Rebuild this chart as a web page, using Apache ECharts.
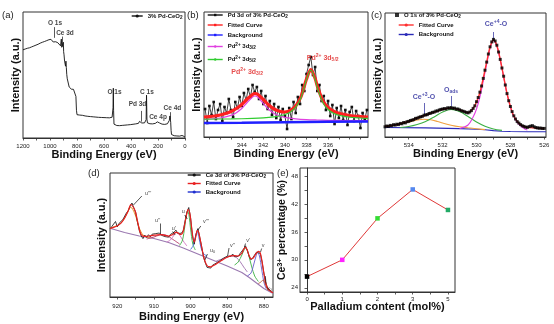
<!DOCTYPE html>
<html>
<head>
<meta charset="utf-8">
<script src="https://cdn.jsdelivr.net/npm/echarts@6.0.0/dist/echarts.min.js"></script>
<style>
html,body{margin:0;padding:0;background:#ffffff;}
#chart{width:554px;height:324px;}
</style>
</head>
<body>
<div id="chart"></div>
<script>
const FONT = '"Liberation Sans", Arial, Helvetica, sans-serif';

// ---------- (a) survey spectrum: [binding energy eV, intensity a.u.] ----------
const surveyA = [[1200,70.0],[1192,69.1],[1184,70.6],[1176,69.5],[1168,71.2],[1160,70.4],[1152,71.6],[1144,70.9],[1136,72.3],[1128,71.8],[1120,73.0],[1112,72.4],[1104,73.7],[1096,73.1],[1088,74.4],[1080,74.0],[1072,75.3],[1064,74.8],[1056,76.0],[1048,75.4],[1040,76.6],[1032,76.1],[1024,77.3],[1016,76.9],[1008,78.0],[1000,77.4],[993,78.3],[986,77.1],[980,77.6],[976,76.2],[972,77.0],[966,75.8],[958,76.4],[950,75.2],[942,75.6],[934,74.1],[928,74.6],[922,73.2],[918,73.8],[916,78.5],[913,72.0],[908,71.2],[904,70.5],[901,76.0],[899,68.5],[896,66.0],[892,61.0],[888,60.0],[885,57.0],[882,61.0],[879,56.0],[876,50.5],[872,47.0],[866,45.5],[858,40.5],[850,39.2],[842,38.8],[834,39.5],[826,38.6],[818,38.9],[812,38.0],[808,33.0],[804,22.0],[800,18.5],[790,18.8],[780,18.2],[770,18.6],[760,18.0],[750,18.4],[740,17.5],[730,17.9],[720,17.2],[710,17.6],[700,17.0],[690,17.3],[680,16.8],[670,17.1],[660,16.6],[650,16.9],[640,16.4],[630,16.7],[620,16.3],[610,16.6],[600,16.2],[590,16.5],[580,16.1],[570,16.4],[560,16.0],[550,16.3],[540,16.5],[536,17.5],[533,24.0],[531,39.5],[529,22.0],[526,11.0],[522,10.2],[515,9.6],[505,9.9],[495,9.5],[485,9.8],[475,9.6],[465,10.0],[455,9.8],[445,10.2],[435,10.0],[425,10.4],[415,10.2],[405,10.6],[395,10.5],[385,10.9],[375,10.8],[365,11.2],[355,11.1],[345,11.6],[340,12.6],[337,13.2],[334,12.2],[330,11.8],[320,11.9],[310,11.7],[300,12.0],[292,12.4],[288,14.5],[285,34.0],[282,15.0],[278,12.0],[270,11.6],[260,11.3],[250,11.5],[240,11.2],[230,11.4],[220,11.6],[210,12.0],[205,12.8],[200,13.4],[195,12.6],[190,12.0],[180,11.4],[170,11.0],[160,11.2],[150,10.8],[140,11.0],[130,11.3],[122,12.2],[116,14.0],[112,17.5],[109,16.0],[106,12.5],[103,6.0],[100,2.8],[95,2.2],[88,2.0],[80,1.8],[70,1.9],[60,1.6],[50,1.7],[40,1.5],[30,1.6],[22,2.0],[15,3.0],[10,1.8],[6,1.2],[3,0.9],[0,0.8]];
const surveyNotes = [['O 1s',963,91.5],['Ce 3d',889,83.5],['O 1s',522,36],['C 1s',282,36],['Pd 3d',352,26.5],['Ce 4p',200,16.5],['Ce 4d',93,24]];
const surveyArrows = [[970,79.5,88.0],[909,72.5,80.5],[326,13,21.5],[106,14.5,20.5]];
const aLabels = [0,200,400,600,800,1000,1200];
const aTicks = [0,100,200,300,400,500,600,700,800,900,1000,1100,1200];

// ---------- (b) Pd 3d ----------
const rawB = [[347.4,28],[347.2,14],[347.0,31],[346.8,22],[346.6,35],[346.4,18],[346.2,27],[346.0,33],[345.8,16],[345.6,30],[345.4,24],[345.2,38],[345.0,27],[344.8,20],[344.6,35],[344.4,29],[344.2,40],[344.0,31],[343.8,44],[343.6,37],[343.4,48],[343.2,40],[343.0,52],[342.8,45],[342.6,50],[342.4,38],[342.2,46],[342.0,33],[341.8,41],[341.6,28],[341.4,36],[341.2,22],[341.0,33],[340.8,19],[340.6,30],[340.4,17],[340.2,28],[340.0,21],[339.8,8],[339.6,29],[339.4,18],[339.2,35],[339.0,24],[338.8,40],[338.6,33],[338.4,52],[338.2,46],[338.0,63],[337.8,72],[337.6,80],[337.4,62],[337.2,70],[337.0,46],[336.8,52],[336.6,36],[336.4,41],[336.2,27],[336.0,36],[335.8,21],[335.6,32],[335.4,13],[335.2,29],[335.0,19],[334.8,31],[334.6,17],[334.4,27],[334.2,12],[334.0,25],[333.8,30],[333.6,16],[333.4,26],[333.2,21],[333.0,9],[332.8,24],[332.6,18],[332.4,27]];
const fitB = [[347.5,19.8],[347,20.3],[346.5,21.0],[346,22.0],[345.5,23.5],[345,25.5],[344.5,28.5],[344,32.5],[343.5,38.0],[343,42.5],[342.8,43.5],[342.5,42.5],[342,37.5],[341.5,32.0],[341,28.0],[340.5,25.8],[340,25.0],[339.5,26.5],[339,31.0],[338.5,40.5],[338,58.0],[337.6,67.5],[337.2,58.5],[337,51.0],[336.5,36.5],[336,29.5],[335.5,25.8],[335,23.8],[334,21.5],[333,20.5],[332.3,20.0]];
const bgB = [[347.5,14.0],[344,14.3],[340,14.8],[336,15.2],[332.3,15.5]];
const pd32B = [[347.5,17.5],[346,19.0],[345,21.6],[344.5,24.3],[344,28.5],[343.5,34.5],[343,40.0],[342.8,41.0],[342.5,39.8],[342,33.5],[341.5,27.5],[341,23.6],[340.5,21.2],[340,19.7],[339,18.2],[338,17.4],[337,17.0],[336,16.7],[334,16.4],[332.3,16.3]];
const pd52B = [[347.5,17.8],[345,18.1],[343,18.6],[342,19.1],[341,20.1],[340.5,21.0],[340,22.5],[339.5,25.0],[339,29.8],[338.5,39.5],[338,57.5],[337.6,67.0],[337.2,57.5],[337,49.5],[336.5,34.8],[336,27.5],[335.5,23.8],[335,21.8],[334,19.8],[333,19.0],[332.3,18.6]];
const bNotes = [['Pd{sup|2+} 3d{sub|3/2}',343.5,65],['Pd{sup|2+} 3d{sub|5/2}',336.5,79]];
const bLabels = [336,338,340,342,344];
const bTicks = [333,334,335,336,337,338,339,340,341,342,343,344,345,346,347];

// ---------- (c) O 1s ----------
const rawC = [[535.4,10.2],[535.3,11.0],[535.2,10.5],[535.1,11.6],[535.0,11.2],[534.9,12.3],[534.8,11.9],[534.7,12.8],[534.6,12.4],[534.5,13.6],[534.4,13.2],[534.3,14.5],[534.2,14.1],[534.1,15.3],[534.0,15.6],[533.9,16.5],[533.8,16.9],[533.7,17.4],[533.6,18.6],[533.5,18.8],[533.4,19.7],[533.3,20.2],[533.2,20.6],[533.1,21.8],[533.0,22.1],[532.9,22.4],[532.8,23.5],[532.7,23.8],[532.6,24.6],[532.5,24.9],[532.4,25.9],[532.3,26.1],[532.2,27.0],[532.1,27.6],[532.0,27.9],[531.9,28.4],[531.8,28.1],[531.7,29.2],[531.6,28.8],[531.5,29.5],[531.4,28.6],[531.3,28.9],[531.2,27.8],[531.1,28.0],[531.0,27.2],[530.9,26.3],[530.8,25.8],[530.7,25.2],[530.6,24.6],[530.5,24.1],[530.4,25.0],[530.3,26.4],[530.2,28.6],[530.1,31.2],[530.0,35.3],[529.9,39.5],[529.8,44.8],[529.7,51.0],[529.6,58.6],[529.5,66.8],[529.4,74.9],[529.3,83.0],[529.2,90.2],[529.1,95.1],[529.0,97.6],[528.9,96.0],[528.8,91.8],[528.7,85.0],[528.6,77.6],[528.5,69.0],[528.4,60.8],[528.3,52.0],[528.2,43.4],[528.1,36.3],[528.0,30.5],[527.9,25.4],[527.8,21.2],[527.7,18.0],[527.6,15.4],[527.5,13.9],[527.4,12.4],[527.3,11.2],[527.2,10.6],[527.1,9.9],[527.0,9.6],[526.9,10.4],[526.8,10.9],[526.7,11.3],[526.6,10.2],[526.5,9.4],[526.4,9.1],[526.3,8.8],[526.2,8.9],[526.1,8.5],[526.0,8.6]];
const fitC = [[535.4,10.5],[535,11.5],[534.5,13.2],[534,15.8],[533.5,19.0],[533,22.0],[532.5,24.8],[532,27.8],[531.5,28.9],[531,27.2],[530.7,25.3],[530.5,24.4],[530.2,28.6],[530,35.0],[529.8,44.5],[529.6,59.0],[529.4,75.0],[529.2,90.0],[529.0,97.0],[528.8,91.5],[528.6,77.5],[528.4,60.5],[528.2,43.5],[528.0,30.5],[527.8,21.0],[527.5,13.8],[527.2,10.5],[527,9.6],[526.5,9.0],[526,8.5]];
const bgC = [[535.4,9.5],[533,9.1],[531,8.4],[530,7.8],[529.5,7.2],[529,6.4],[528.5,5.8],[528,5.5],[527,5.3],[525.9,5.2]];
const ce3C = [[535.4,10.5],[535,11.5],[534.5,13.0],[534,15.0],[533.5,17.0],[533.1,17.8],[532.7,17.2],[532.3,15.5],[532,14.0],[531.5,11.8],[531,10.2],[530.5,9.2],[530,8.3],[529.5,7.4]];
const oadsC = [[534.5,9.5],[534,10.5],[533.5,12.5],[533,15.5],[532.5,20.0],[532,25.0],[531.5,27.5],[531,25.5],[530.5,20.5],[530,15.0],[529.5,10.8],[529,8.0],[528.5,6.6]];
const ce4C = [[531,8.5],[530.5,12.0],[530.2,20.0],[530,28.0],[529.8,40.0],[529.6,56.0],[529.4,73.0],[529.2,89.0],[529.0,96.5],[528.8,91.0],[528.6,77.0],[528.4,60.0],[528.2,43.0],[528.0,30.0],[527.8,20.5],[527.5,12.5],[527.2,8.5],[527,7.0]];
const cNotes = [['Ce{sup|+4}-O',528.85,113],['O{sub|ads}',531.5,47],['Ce{sup|+3}-O',533.1,40]];
const cArrows = [[529.0,105,97.5],[531.5,41,31],[533.1,34,23]];
const cLabels = [526,528,530,532,534];
const cTicks = [526,527,528,529,530,531,532,533,534,535];

// ---------- (d) Ce 3d ----------
const rawD = [[922.0,68.0],[921.5,70.5],[921.0,68.8],[920.5,75.5],[920.0,70.2],[919.5,73.8],[919.0,72.6],[918.5,77.4],[918.0,78.8],[917.5,84.1],[917.0,86.5],[916.5,90.8],[916.0,94.0],[915.5,89.2],[915.0,84.6],[914.5,74.8],[914.0,66.5],[913.5,61.2],[913.0,58.4],[912.5,61.9],[912.0,59.6],[911.5,62.3],[911.0,60.1],[910.5,62.8],[910.0,61.0],[909.5,63.4],[909.0,61.5],[908.5,64.0],[908.0,61.8],[907.5,63.5],[907.0,60.4],[906.5,61.9],[906.0,59.8],[905.5,62.6],[905.0,61.5],[904.5,64.8],[904.0,66.9],[903.5,63.5],[903.0,61.6],[902.5,63.8],[902.0,66.5],[901.5,76.0],[901.0,84.8],[900.5,89.5],[900.0,79.2],[899.5,61.5],[899.0,52.8],[898.5,63.2],[898.0,68.4],[897.5,59.6],[897.0,50.8],[896.5,40.2],[896.0,34.5],[895.5,29.6],[895.0,31.2],[894.5,28.9],[894.0,31.8],[893.5,32.4],[893.0,33.9],[892.5,34.1],[892.0,36.3],[891.5,36.8],[891.0,38.9],[890.5,38.2],[890.0,40.8],[889.5,42.4],[889.0,40.7],[888.5,43.0],[888.0,40.2],[887.5,42.1],[887.0,40.6],[886.5,43.5],[886.0,45.2],[885.5,48.1],[885.0,51.2],[884.5,46.3],[884.0,40.5],[883.5,37.2],[883.0,39.4],[882.5,41.0],[882.0,44.8],[881.5,46.2],[881.0,43.6],[880.5,35.4],[880.0,23.8],[879.5,14.6],[879.0,9.2],[878.5,7.8],[878.0,5.6],[877.5,4.2]];
const fitD = [[922,68.5],[921,69.6],[920,71.2],[919,73.8],[918,79.0],[917,86.5],[916.3,92.5],[915.5,89.0],[915,84.5],[914.5,76.0],[914,67.5],[913.5,62.5],[913,60.8],[912,60.6],[911,61.2],[910,61.8],[909,62.2],[908,62.3],[907,61.6],[906,61.0],[905,62.2],[904,64.6],[903.5,64.4],[903,62.6],[902.5,62.8],[902,66.0],[901.5,75.0],[901,84.0],[900.7,87.5],[900.3,85.0],[900,78.5],[899.5,63.0],[899,55.0],[898.6,60.0],[898.2,66.5],[897.8,64.5],[897.4,58.0],[897,50.5],[896.5,41.5],[896,35.0],[895.5,31.5],[895,30.3],[894.5,30.2],[894,31.0],[893,33.0],[892,35.4],[891,37.8],[890,39.8],[889,41.2],[888,41.3],[887,41.0],[886,43.8],[885.5,47.8],[885,49.6],[884.5,46.8],[884,41.2],[883.5,38.2],[883,38.6],[882.5,41.2],[882,44.0],[881.5,45.6],[881,44.2],[880.5,35.8],[880,24.2],[879.5,13.8],[879,9.0],[878.5,6.8],[878,5.2],[877.5,4.2]];
const bgD = [[922,68.7],[918,64.5],[914,61.0],[910,58.5],[906,54.5],[902,49.0],[898,43.0],[894,37.0],[890,31.0],[886,24.5],[884,19.5],[882,14.0],[880,8.5],[878,4.5],[877.5,3.8]];
const uIIID = [[922,69.0],[920,71.5],[919,74.0],[918,79.0],[917,86.0],[916.5,89.5],[916,89.0],[915,81.0],[914,69.0],[913,62.0],[912,60.0],[911,59.0]];
const uIID = [[912,58.0],[910,60.0],[908.5,62.0],[907.5,62.5],[906.5,61.5],[905,58.0],[903,53.0]];
const uID = [[906.5,55.0],[905.5,57.0],[904.5,62.0],[903.8,64.5],[903,62.0],[902,56.0],[901,51.0]];
const uD = [[903,51.5],[902.2,57.0],[901.6,70.0],[901.2,81.0],[900.8,86.0],[900.4,81.0],[900,68.0],[899.4,53.0],[898.7,47.0]];
const vIIID = [[900,47.5],[899.2,52.0],[898.7,60.0],[898.2,65.0],[897.7,59.0],[897.2,50.0],[896.5,43.5],[895.5,41.0]];
const vIID = [[893,36.0],[891,38.5],[889.5,40.5],[888.5,41.0],[887.5,39.5],[886.5,35.5],[885.5,30.0],[884.5,25.0]];
const vID = [[888,32.0],[887,35.0],[886,42.0],[885.3,48.0],[885,49.0],[884.5,46.5],[884,40.0],[883.3,30.0],[882.5,21.0],[881.5,15.5]];
const vD = [[884.5,21.0],[883.5,24.0],[882.8,32.0],[882.2,40.0],[881.7,44.5],[881.2,41.0],[880.6,28.0],[880,15.0],[879.4,8.5]];
const v0D = [[881.5,13.5],[880.8,15.0],[880.2,17.0],[879.7,14.0],[879.2,9.0],[878.6,6.0]];
const dNotes = [["u'''",911.6,104],["u''",909,77],["u'",904.6,69],['u',902,85.5],["v'''",895.8,75.5],['u{sub|0}',894,47],["v''",888.6,52],["v'",884.3,57],['v',880.2,52],['v{sub|0}',878.5,9]];
const dLeaders = [[915.6,92,913.3,101],[908.3,73.5,908.3,63],[904.9,65.5,904.2,62],[901.6,82,900.9,78],[897.2,71,898.0,67],[895.4,43,896.1,37],[889.5,49,889.9,41],[885.0,53.5,885.3,50],[880.6,48.5,880.9,45],[879.4,13.5,879.6,21]];
const dLabels = [880,890,900,910,920];
const dTicks = [880,885,890,895,900,905,910,915,920];

// ---------- (e) Ce3+ percentage ----------
const eCategories = ['0','1','2','3','5'];
const eValues = [26.4, 30.0, 38.9, 45.1, 40.7];
const eMarkerColors = ['#000000','#ff22ff','#33dd33','#5588ee','#22aa66'];
const eYLabels = [24,30,36,42,48];
const eYTicks = [24,27,30,33,36,39,42,45,48];
const eXTicks = [0,0.5,1,1.5,2,2.5,3,3.5,4];

// ---------------------------------------------------------------
function rich(fs, weight, color) {
  return {
    sup:{fontSize:fs*0.72, fontWeight:weight, color:color, fontFamily:FONT, verticalAlign:'top', lineHeight:fs*0.85},
    sub:{fontSize:fs*0.72, fontWeight:weight, color:color, fontFamily:FONT, verticalAlign:'bottom', lineHeight:fs*0.85}
  };
}
function xAxisOf(gi, min, max, labels, ticks, labelMargin, nameGap, inverse, fmt) {
  return {
    gridIndex:gi, type:'value', min:min, max:max, inverse:inverse,
    name:'Binding Energy (eV)', nameLocation:'middle', nameGap:nameGap, nameMoveOverlap:false,
    nameTextStyle:{fontSize:11, fontWeight:'bold', color:'#111', fontFamily:FONT},
    axisLine:{show:true, onZero:false, lineStyle:{color:'#333', width:1}},
    axisTick:{show:true, customValues:ticks, length:2.5, lineStyle:{color:'#333', width:0.8}},
    axisLabel:{show:true, customValues:labels, fontSize:6, margin:labelMargin, color:'#222', fontFamily:FONT,
               formatter: fmt || (v => String(v))},
    splitLine:{show:false}
  };
}
function yAxisOf(gi, max, nameGap) {
  return {
    gridIndex:gi, type:'value', min:0, max:max,
    name:'Intensity (a.u.)', nameLocation:'middle', nameGap:nameGap, nameMoveOverlap:false,
    nameTextStyle:{fontSize:11, fontWeight:'bold', color:'#111', fontFamily:FONT},
    axisLine:{show:false}, axisTick:{show:false}, axisLabel:{show:false}, splitLine:{show:false}
  };
}
function lineS(name, gi, data, color, width, extra) {
  return Object.assign({
    name:name, type:'line', xAxisIndex:gi, yAxisIndex:gi, data:data,
    symbol:'none', showSymbol:false, lineStyle:{color:color, width:width}, itemStyle:{color:color},
    silent:true, z:2
  }, extra || {});
}
function notes(gi, list, fs, weight, color, markData, arrowEnd) {
  return {
    type:'scatter', xAxisIndex:gi, yAxisIndex:gi, silent:true, z:10,
    data:list.map(n => ({name:n[0], value:[n[1], n[2]]})),
    symbolSize:1, itemStyle:{color:'rgba(0,0,0,0)'},
    label:{show:true, position:'inside', formatter:p => p.name, fontSize:fs, fontWeight:weight,
           color:color, fontFamily:FONT, lineHeight:fs*1.3, rich:rich(fs, weight, color)},
    markLine: markData ? {
      silent:true, animation:false, symbol:['none', arrowEnd ? 'arrow' : 'none'], symbolSize:[0,4],
      label:{show:false}, lineStyle:{color:color, width:0.7, type:'solid'}, emphasis:{disabled:true},
      data:markData
    } : undefined
  };
}
function legendFmt(name) {
  return name.trim().replace('CeO2','CeO{sub|2}').replace(/Pd2\+ 3d(\d\/2)/, 'Pd{sup|2+} 3d{sub|$1}');
}
function legendOf(names, left, top, w, h, gap) {
  return {
    data:names, left:left, top:top, orient:'vertical', padding:0, itemGap:gap,
    itemWidth:w, itemHeight:h, selectedMode:false, formatter:legendFmt,
    lineStyle:{width:1.4},
    textStyle:{fontSize:6, fontWeight:'bold', color:'#111', fontFamily:FONT, lineHeight:8, rich:rich(6.5,'bold','#111')}
  };
}

const chart = echarts.init(document.getElementById('chart'), null, {renderer:'canvas'});
const gridStyle = {show:true, borderColor:'#333', borderWidth:1, backgroundColor:'transparent', containLabel:false, outerBoundsMode:'none'};

const option = {
  animation:false,
  backgroundColor:'#ffffff',
  textStyle:{fontFamily:FONT},
  grid:[
    Object.assign({left:23, top:12, width:162, height:126}, gridStyle),
    Object.assign({left:204, top:12, width:164, height:125}, gridStyle),
    Object.assign({left:385, top:13, width:161, height:124}, gridStyle),
    Object.assign({left:110, top:173, width:163, height:124}, gridStyle),
    Object.assign({left:300, top:168, width:155, height:124}, gridStyle)
  ],
  xAxis:[
    xAxisOf(0, 0, 1200, aLabels, aTicks, 5, 11, true),
    xAxisOf(1, 332.3, 347.5, bLabels, bTicks, 5, 11, true),
    xAxisOf(2, 525.9, 535.4, cLabels, cTicks, 5, 11, true),
    xAxisOf(3, 877.5, 922, dLabels, dTicks, 6, 14, true),
    Object.assign(xAxisOf(4, -0.2, 4.2, [0,1,2,3,4], eXTicks, 4, 9.5, false, v => eCategories[Math.round(v)]),
      {name:'Palladium content (mol%)'})
  ],
  yAxis:[
    yAxisOf(0, 100, 2),
    yAxisOf(1, 125, 2),
    yAxisOf(2, 124, 2),
    yAxisOf(3, 124, 3),
    {
      gridIndex:4, type:'value', min:23.1, max:49.7,
      name:'Ce{sup|3+} percentage (%)', nameLocation:'middle', nameGap:12, nameMoveOverlap:false,
      nameTextStyle:{fontSize:10.5, fontWeight:'bold', color:'#111', fontFamily:FONT, lineHeight:12, rich:rich(10.5,'bold','#111')},
      axisLine:{show:true, lineStyle:{color:'#333', width:1}},
      axisTick:{show:true, customValues:eYTicks, length:2.5, lineStyle:{color:'#333', width:0.8}},
      axisLabel:{show:true, customValues:eYLabels, fontSize:6, margin:2, color:'#222', fontFamily:FONT},
      splitLine:{show:false}
    }
  ],
  legend:[
    legendOf(['3% Pd-CeO2'], 131, 12, 11, 4, 2),
    legendOf(['Pd 3d of 3% Pd-CeO2','Fitted Curve','Background'], 207, 11, 15, 3, 2),
    legendOf(['Pd2+ 3d3/2','Pd2+ 3d5/2'], 207, 42.5, 15, 3, 5),
    legendOf(['O 1s of 3% Pd-CeO2'], 395, 11, 4, 4, 2),
    legendOf(['Fitted Curve ','Background '], 398, 21, 15, 4, 1.5),
    legendOf(['Ce 3d of 3% Pd-CeO2','Fitted Curve  ','Background  '], 187, 171, 13, 4, 0.5)
  ],
  graphic:[
    {type:'text', x:2, y:15, style:{text:'(a)', fontSize:9.5, fontFamily:FONT, fill:'#222', verticalAlign:'middle'}},
    {type:'text', x:187, y:15, style:{text:'(b)', fontSize:9.5, fontFamily:FONT, fill:'#222', verticalAlign:'middle'}},
    {type:'text', x:371, y:15, style:{text:'(c)', fontSize:9.5, fontFamily:FONT, fill:'#222', verticalAlign:'middle'}},
    {type:'text', x:88, y:173, style:{text:'(d)', fontSize:9.5, fontFamily:FONT, fill:'#222', verticalAlign:'middle'}},
    {type:'text', x:277, y:173, style:{text:'(e)', fontSize:9.5, fontFamily:FONT, fill:'#222', verticalAlign:'middle'}}
  ],
  series:[
    // (a)
    lineS('3% Pd-CeO2', 0, surveyA, '#111', 0.9),
    notes(0, surveyNotes, 6.5, 'bold', '#111',
      surveyArrows.map(a => [{coord:[a[0], a[1]]}, {coord:[a[0], a[2]]}]), true),
    // (b)
    lineS('Pd 3d of 3% Pd-CeO2', 1, rawB, '#111', 0.8, {symbol:'rect', symbolSize:2.6, showSymbol:true, z:1}),
    lineS('Pd2+ 3d3/2', 1, pd32B, '#e040e0', 1.2, {smooth:0.3}),
    lineS('Fitted Curve', 1, fitB, '#ff2020', 3.2, {smooth:0.3, symbol:'rect', symbolSize:3, showSymbol:false, z:3}),
    lineS('Pd2+ 3d5/2', 1, pd52B, '#30cc30', 1.1, {smooth:0.3, z:4}),
    lineS('Background', 1, bgB, '#2020ff', 2.6, {symbol:'rect', symbolSize:3, showSymbol:false, z:4}),
    notes(1, bNotes, 7, 'bold', '#e02020'),
    // (c)
    lineS('Background ', 2, bgC, '#2a2ab8', 1.1),
    lineS('Ce3+ comp', 2, ce3C, '#f0a040', 1.1, {smooth:0.3}),
    lineS('Oads comp', 2, oadsC, '#3cb043', 1.1, {smooth:0.3}),
    lineS('Ce4+ comp', 2, ce4C, '#e040e0', 1.1, {smooth:0.3}),
    lineS('Fitted Curve ', 2, fitC, '#ff3030', 1.4, {smooth:0.3, z:3}),
    {name:'O 1s of 3% Pd-CeO2', type:'scatter', xAxisIndex:2, yAxisIndex:2, data:rawC, symbol:'rect',
      symbolSize:3, itemStyle:{color:'#000'}, silent:true, z:5},
    notes(2, cNotes, 7, 'bold', '#25259a',
      cArrows.map(a => [{coord:[a[0], a[1]]}, {coord:[a[0], a[2]]}]), true),
    // (d)
    lineS('Background  ', 3, bgD, '#9a78b0', 1.1),
    lineS('u3', 3, uIIID, '#e89a30', 1, {smooth:0.3}),
    lineS('u2', 3, uIID, '#b03060', 0.9, {smooth:0.3}),
    lineS('u1', 3, uID, '#d070c0', 0.9, {smooth:0.3}),
    lineS('u', 3, uD, '#3cb043', 0.9, {smooth:0.3}),
    lineS('v3', 3, vIIID, '#4169e1', 0.9, {smooth:0.3}),
    lineS('v2', 3, vIID, '#a070b0', 0.9, {smooth:0.3}),
    lineS('v1', 3, vID, '#3cb043', 0.9, {smooth:0.3}),
    lineS('v', 3, vD, '#6a5acd', 0.9, {smooth:0.3}),
    lineS('v0', 3, v0D, '#b05030', 0.9, {smooth:0.3}),
    lineS('Ce 3d of 3% Pd-CeO2', 3, rawD, '#111', 0.8, {z:3}),
    lineS('Fitted Curve  ', 3, fitD, '#e82020', 1.2, {smooth:0.3, z:4}),
    notes(3, dNotes, 5.5, 'normal', '#111',
      dLeaders.map(a => [{coord:[a[0], a[1]]}, {coord:[a[2], a[3]]}]), false),
    // (e)
    {name:'Ce3+ percentage', type:'line', xAxisIndex:4, yAxisIndex:4, silent:true,
      data:eValues.map((v, i) => ({value:[i, v], itemStyle:{color:eMarkerColors[i]}})),
      symbol:'rect', symbolSize:4.5, showSymbol:true,
      lineStyle:{color:'#e03838', width:1}, itemStyle:{color:'#e03838'}}
  ]
};
option.legend[0].data = [{name:'3% Pd-CeO2'}];
option.legend[5].data = [{name:'Ce 3d of 3% Pd-CeO2'},{name:'Fitted Curve  '},
  {name:'Background  ', lineStyle:{color:'#2030d0'}, itemStyle:{color:'#2030d0'}}];
chart.setOption(option);
</script>
</body>
</html>
